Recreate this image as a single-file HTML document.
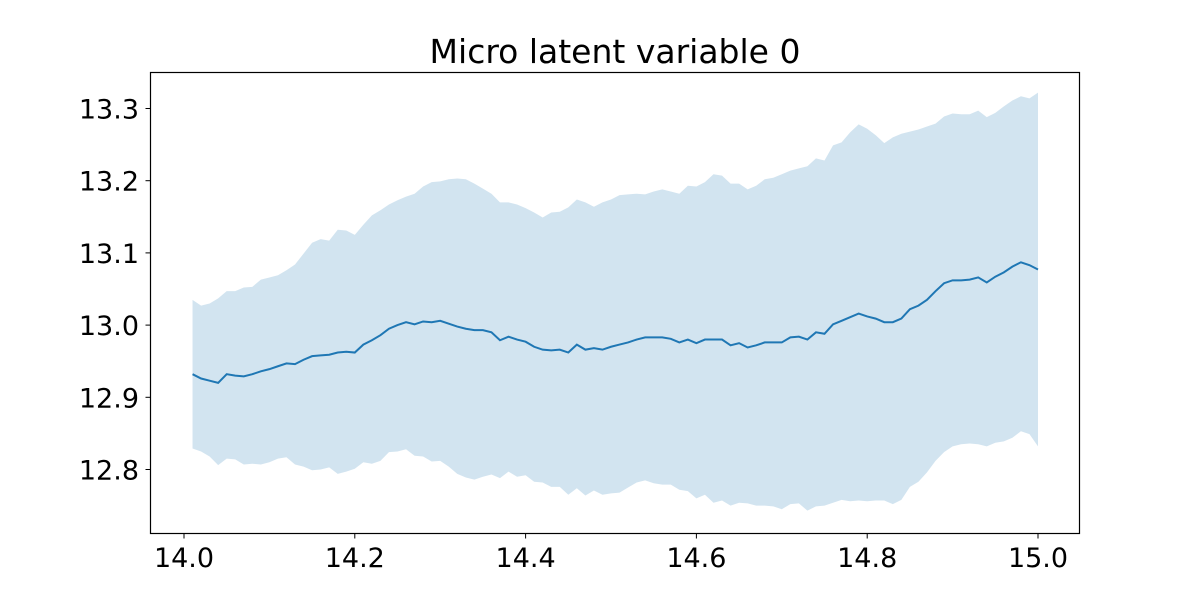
<!DOCTYPE html>
<html><head><meta charset="utf-8"><style>
html,body{margin:0;padding:0;background:#fff;}
svg text{font-family:"DejaVu Sans","Liberation Sans",sans-serif;fill:#000;}
</style></head><body>
<svg id="chart" width="1200" height="600" xmlns="http://www.w3.org/2000/svg">
<rect width="1200" height="600" fill="#fff"/>
<text x="615" y="63" font-size="33" text-anchor="middle">Micro latent variable 0</text>
<g id="plot"></g>
<rect x="150.5" y="72.5" width="929" height="461" fill="none" stroke="#000" stroke-width="1.2"/>
</svg>
<script>
const xTicks=[14.0,14.2,14.4,14.6,14.8,15.0];
const xTickLabels=["14.0","14.2","14.4","14.6","14.8","15.0"];
const yTicks=[12.8,12.9,13.0,13.1,13.2,13.3];
const yTickLabels=["12.8","12.9","13.0","13.1","13.2","13.3"];
const meanVals=[12.932,12.926,12.923,12.920,12.932,12.930,12.929,12.932,12.936,12.939,12.943,12.947,12.946,12.952,12.957,12.958,12.959,12.962,12.963,12.962,12.973,12.979,12.986,12.995,13.000,13.004,13.001,13.005,13.004,13.006,13.002,12.998,12.995,12.993,12.993,12.990,12.979,12.984,12.980,12.977,12.970,12.966,12.965,12.966,12.962,12.973,12.966,12.968,12.966,12.970,12.973,12.976,12.980,12.983,12.983,12.983,12.981,12.976,12.980,12.975,12.980,12.980,12.980,12.972,12.975,12.969,12.972,12.976,12.976,12.976,12.983,12.984,12.980,12.990,12.988,13.001,13.006,13.011,13.016,13.012,13.009,13.004,13.004,13.009,13.022,13.027,13.035,13.047,13.058,13.062,13.062,13.063,13.066,13.059,13.067,13.073,13.081,13.087,13.083,13.077];
const upperVals=[13.035,13.027,13.030,13.037,13.047,13.047,13.052,13.053,13.063,13.066,13.069,13.076,13.084,13.099,13.114,13.119,13.117,13.132,13.131,13.125,13.139,13.152,13.159,13.167,13.173,13.178,13.182,13.192,13.198,13.199,13.202,13.203,13.202,13.196,13.189,13.182,13.170,13.170,13.167,13.162,13.156,13.149,13.156,13.157,13.163,13.174,13.170,13.164,13.170,13.174,13.180,13.181,13.182,13.181,13.185,13.188,13.185,13.182,13.193,13.192,13.198,13.209,13.207,13.196,13.196,13.188,13.193,13.202,13.204,13.209,13.214,13.217,13.220,13.231,13.228,13.249,13.253,13.267,13.278,13.272,13.263,13.252,13.260,13.265,13.268,13.271,13.275,13.279,13.289,13.293,13.292,13.292,13.297,13.288,13.294,13.303,13.311,13.317,13.314,13.322];
const lowerVals=[12.829,12.825,12.818,12.806,12.815,12.814,12.807,12.808,12.807,12.810,12.815,12.817,12.807,12.804,12.799,12.800,12.803,12.794,12.797,12.801,12.810,12.808,12.812,12.824,12.825,12.828,12.819,12.818,12.811,12.812,12.804,12.794,12.789,12.786,12.790,12.793,12.788,12.797,12.790,12.792,12.783,12.782,12.776,12.776,12.765,12.774,12.764,12.771,12.765,12.767,12.768,12.775,12.782,12.785,12.781,12.779,12.779,12.772,12.770,12.760,12.765,12.754,12.757,12.750,12.754,12.753,12.750,12.750,12.749,12.745,12.752,12.753,12.743,12.749,12.750,12.754,12.758,12.756,12.757,12.756,12.757,12.757,12.752,12.758,12.776,12.783,12.796,12.812,12.824,12.832,12.835,12.836,12.835,12.832,12.837,12.839,12.844,12.853,12.849,12.832];
const xStart=14.01, xStep=0.01;

const NS="http://www.w3.org/2000/svg";
const plot=document.getElementById('plot');
function xs(v){return 184+(v-14.0)*854;}
function ys(v){return 108.5+(13.3-v)*722;}
function xi(i){return xs(xStart+i*xStep);}

let d="";
upperVals.forEach((v,i)=>{d+=(i?"L":"M")+xi(i).toFixed(2)+","+ys(v).toFixed(2);});
for(let i=lowerVals.length-1;i>=0;i--){d+="L"+xi(i).toFixed(2)+","+ys(lowerVals[i]).toFixed(2);}
d+="Z";
const band=document.createElementNS(NS,'path');
band.setAttribute('d',d);band.setAttribute('fill','#1f77b4');band.setAttribute('fill-opacity','0.2');


plot.appendChild(band);

let ld="";
meanVals.forEach((v,i)=>{ld+=(i?"L":"M")+xi(i).toFixed(2)+","+ys(v).toFixed(2);});
const line=document.createElementNS(NS,'path');
line.setAttribute('d',ld);line.setAttribute('fill','none');line.setAttribute('stroke','#1f77b4');line.setAttribute('stroke-width','2');


plot.appendChild(line);

xTicks.forEach((t,i)=>{
  const x=xs(t);
  const tk=document.createElementNS(NS,'line');
  tk.setAttribute('x1',x);tk.setAttribute('x2',x);tk.setAttribute('y1',533.5);tk.setAttribute('y2',538.5);tk.setAttribute('stroke','#000');
  
  
  plot.appendChild(tk);
  const tx=document.createElementNS(NS,'text');
  tx.setAttribute('x',x);tx.setAttribute('y',567);tx.setAttribute('font-size','27');tx.setAttribute('text-anchor','middle');
  tx.textContent=xTickLabels[i];
  
  
  plot.appendChild(tx);
});
yTicks.forEach((t,i)=>{
  const y=ys(t);
  const tk=document.createElementNS(NS,'line');
  tk.setAttribute('x1',145.5);tk.setAttribute('x2',150.5);tk.setAttribute('y1',y);tk.setAttribute('y2',y);tk.setAttribute('stroke','#000');
  
  
  plot.appendChild(tk);
  const tx=document.createElementNS(NS,'text');
  tx.setAttribute('x',139);tx.setAttribute('y',y+10);tx.setAttribute('font-size','27');tx.setAttribute('text-anchor','end');
  tx.textContent=yTickLabels[i];
  
  
  plot.appendChild(tx);
});
</script>
</body></html>
